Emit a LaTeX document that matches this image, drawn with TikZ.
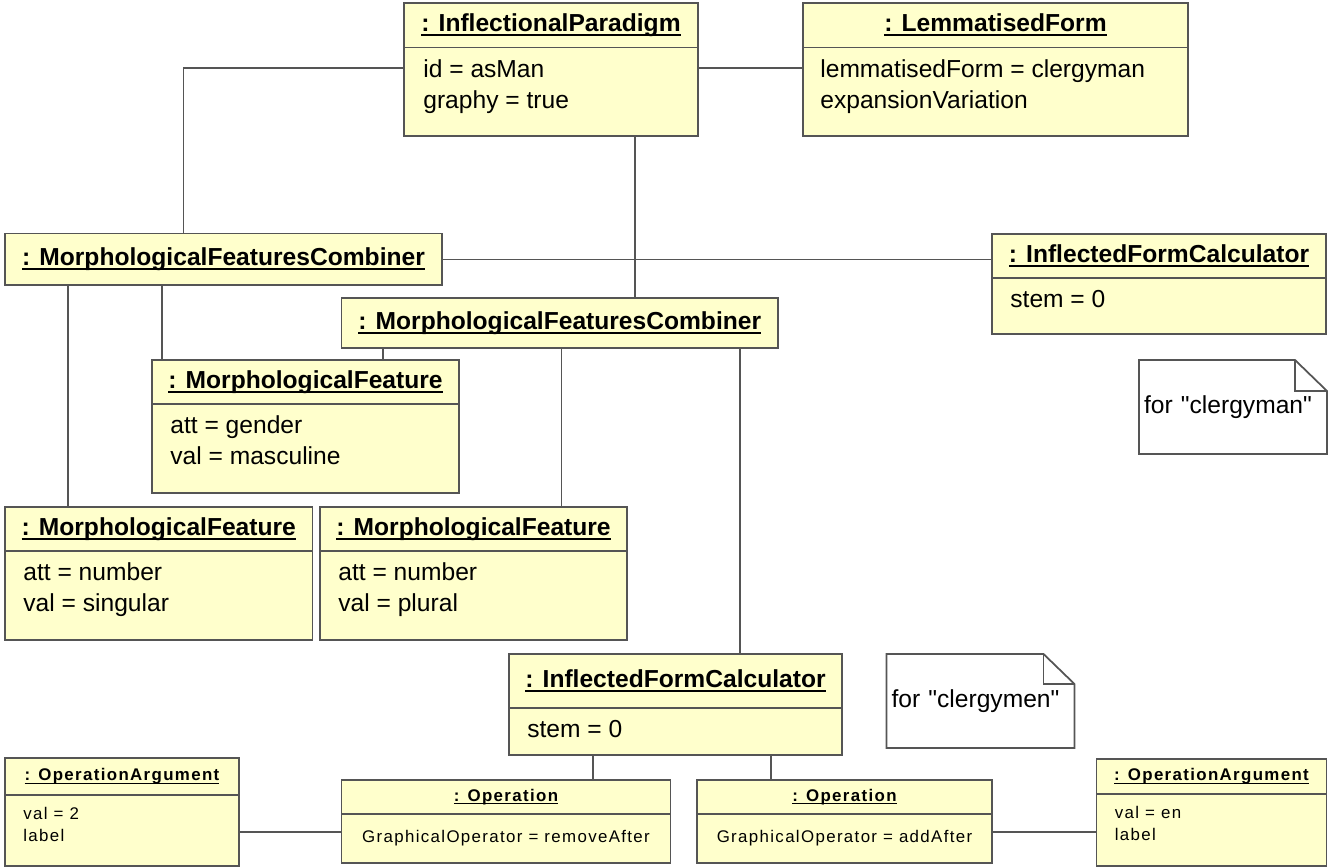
\documentclass[tikz,border=0pt]{standalone}
\usepackage{fontspec}
\setmainfont{Liberation Sans}
\newfontfamily\smallsf[LetterSpace=8]{Liberation Sans}
\usetikzlibrary{positioning}
\definecolor{objfill}{HTML}{FFFFCC}
\definecolor{edgegray}{HTML}{555555}
\newsavebox\namebox
\newcommand{\objname}[1]{\sbox\namebox{#1}\rlap{\rule[-0.18em]{\wd\namebox}{0.08em}}\usebox\namebox}
\newcommand{\mainsize}{\fontsize{14pt}{17.6pt}\selectfont}
\tikzset{
objbox/.style={
draw=edgegray,
fill=objfill,
line width=1pt,
inner sep=0pt,outer sep=0pt},
objtitle/.style={objbox,anchor=north west,font=\mainsize\bfseries},
attrtext/.style={anchor=north west,align=left,inner sep=0pt},
small/.style={font={\smallsf\fontsize{9.6pt}{12.5pt}\selectfont}},
link/.style={draw=edgegray,line width=0.8pt},
notebox/.style={inner xsep=0.1cm,inner ysep=0pt,outer sep=0pt,anchor=north west,text width=3.56cm,minimum height=1.88cm,align=left}
}

\begin{document}
\begin{tikzpicture}[font=\mainsize]
  \useasboundingbox (0,0) rectangle (26.56,-17.34);
  % top row
  \node[objtitle, minimum width=5.88cm, minimum height=0.89cm] (ip) at (8.08,-0.06) {\objname{: InflectionalParadigm}};
  \node[objbox, below=0pt of ip, minimum width=5.88cm, minimum height=1.77cm] (ip-a) {};
  \node[attrtext, below right=0.23cm and 0.38cm of ip-a.north west] (ip-t) {id = asMan\\graphy = true};
  \node[objtitle, minimum width=7.70cm, minimum height=0.89cm] (lf) at (16.06,-0.06) {\objname{: LemmatisedForm}};
  \node[objbox, below=0pt of lf, minimum width=7.70cm, minimum height=1.77cm] (lf-a) {};
  \node[attrtext, below right=0.23cm and 0.34cm of lf-a.north west] (lf-t) {lemmatisedForm = clergyman\\expansionVariation};
  % combiners
  \node[objtitle, minimum width=8.74cm, minimum height=1.03cm] (mfc1) at (0.10,-4.67) {\objname{: MorphologicalFeaturesCombiner}};
  \node[objtitle, minimum width=6.68cm, minimum height=0.88cm] (ifc1) at (19.84,-4.68) {\objname{: InflectedFormCalculator}};
  \node[objbox, below=0pt of ifc1, minimum width=6.68cm, minimum height=1.12cm] (ifc1-a) {};
  \node[attrtext, below right=0.23cm and 0.36cm of ifc1-a.north west] (ifc1-t) {stem = 0};
  \node[objtitle, minimum width=8.73cm, minimum height=1.00cm] (mfc2) at (6.83,-5.96) {\objname{: MorphologicalFeaturesCombiner}};
  % features
  \node[objtitle, minimum width=6.14cm, minimum height=0.88cm] (mfgen) at (3.04,-7.20) {\objname{: MorphologicalFeature}};
  \node[objbox, below=0pt of mfgen, minimum width=6.14cm, minimum height=1.78cm] (mfgen-a) {};
  \node[attrtext, below right=0.23cm and 0.36cm of mfgen-a.north west] (mfgen-t) {att = gender\\val = masculine};
  \node[objtitle, minimum width=6.15cm, minimum height=0.88cm] (mfsing) at (0.10,-10.14) {\objname{: MorphologicalFeature}};
  \node[objbox, below=0pt of mfsing, minimum width=6.15cm, minimum height=1.78cm] (mfsing-a) {};
  \node[attrtext, below right=0.23cm and 0.36cm of mfsing-a.north west] (mfsing-t) {att = number\\val = singular};
  \node[objtitle, minimum width=6.14cm, minimum height=0.88cm] (mfplur) at (6.40,-10.14) {\objname{: MorphologicalFeature}};
  \node[objbox, below=0pt of mfplur, minimum width=6.14cm, minimum height=1.78cm] (mfplur-a) {};
  \node[attrtext, below right=0.23cm and 0.36cm of mfplur-a.north west] (mfplur-t) {att = number\\val = plural};
  % calculator and operations
  \node[objtitle, minimum width=6.66cm, minimum height=1.08cm] (ifc2) at (10.18,-13.08) {\objname{: InflectedFormCalculator}};
  \node[objbox, below=0pt of ifc2, minimum width=6.66cm, minimum height=0.94cm] (ifc2-a) {};
  \node[attrtext, below right=0.23cm and 0.36cm of ifc2-a.north west] (ifc2-t) {stem = 0};
  \node[objtitle, small, minimum width=6.58cm, minimum height=0.68cm] (op1) at (6.83,-15.60) {\bfseries\objname{: Operation}};
  \node[objbox, small, below=0pt of op1, minimum width=6.58cm, minimum height=0.98cm] (op1-a) {GraphicalOperator = removeAfter};
  \node[objtitle, small, minimum width=5.90cm, minimum height=0.68cm] (op2) at (13.94,-15.60) {\bfseries\objname{: Operation}};
  \node[objbox, small, below=0pt of op2, minimum width=5.90cm, minimum height=0.98cm] (op2-a) {GraphicalOperator = addAfter};
  \node[objtitle, small, minimum width=4.68cm, minimum height=0.74cm] (oparg1) at (0.10,-15.16) {\bfseries\objname{: OperationArgument}};
  \node[objbox, small, below=0pt of oparg1, minimum width=4.68cm, minimum height=1.42cm] (oparg1-a) {};
  \node[attrtext, small, below right=0.24cm and 0.36cm of oparg1-a.north west] (oparg1-t) {val = 2\\label};
  \node[objtitle, small, minimum width=4.60cm, minimum height=0.70cm] (oparg2) at (21.93,-15.18) {\bfseries\objname{: OperationArgument}};
  \node[objbox, small, below=0pt of oparg2, minimum width=4.60cm, minimum height=1.44cm] (oparg2-a) {};
  \node[attrtext, small, below right=0.24cm and 0.36cm of oparg2-a.north west] (oparg2-t) {val = en\\label};
  % notes
  \node[notebox] (note1) at (22.78,-7.20) {for \textquotedbl clergyman\textquotedbl};
  \draw[edgegray, line width=1pt] (note1.north west) -- ([xshift=-0.64cm]note1.north east) -- ([yshift=-0.62cm]note1.north east) -- (note1.south east) -- (note1.south west) -- cycle;
  \draw[edgegray, line width=1pt] ([xshift=-0.64cm]note1.north east) |- ([yshift=-0.62cm]note1.north east);
  \node[notebox] (note2) at (17.73,-13.08) {for \textquotedbl clergymen\textquotedbl};
  \draw[edgegray, line width=1pt] (note2.north west) -- ([xshift=-0.62cm]note2.north east) -- ([yshift=-0.60cm]note2.north east) -- (note2.south east) -- (note2.south west) -- cycle;
  \draw[edgegray, line width=1pt] ([xshift=-0.62cm]note2.north east) |- ([yshift=-0.60cm]note2.north east);
  % links
  \draw[link] ([yshift=-0.41cm]ip-a.north west) -| ([xshift=3.57cm]mfc1.north west);
  \draw[link] ([yshift=-0.41cm]ip-a.north east) -- ([yshift=-0.41cm]lf-a.north west);
  \draw[link] ([xshift=5.87cm]mfc2.north west) -- ([xshift=5.87cm]mfc2.north west |- ip-a.south);
  \draw[link] (mfc1.east) -- (mfc1.east -| ifc1.west);
  \draw[link] ([xshift=0.2cm]mfgen.north west) -- ([xshift=0.2cm]mfgen.north west |- mfc1.south);
  \draw[link] ([xshift=1.26cm]mfsing.north west) -- ([xshift=1.26cm]mfsing.north west |- mfc1.south);
  \draw[link] ([xshift=4.62cm]mfgen.north west) -- ([xshift=4.62cm]mfgen.north west |- mfc2.south);
  \draw[link] ([xshift=4.83cm]mfplur.north west) -- ([xshift=4.83cm]mfplur.north west |- mfc2.south);
  \draw[link] ([xshift=4.62cm]ifc2.north west) -- ([xshift=4.62cm]ifc2.north west |- mfc2.south);
  \draw[link] ([xshift=5.03cm]op1.north west) -- ([xshift=5.03cm]op1.north west |- ifc2-a.south);
  \draw[link] ([xshift=1.48cm]op2.north west) -- ([xshift=1.48cm]op2.north west |- ifc2-a.south);
  \draw[link] ([yshift=-0.36cm]op1-a.north west) -- ([yshift=-0.36cm]op1-a.north west -| oparg1-a.east);
  \draw[link] ([yshift=-0.36cm]op2-a.north east) -- ([yshift=-0.36cm]op2-a.north east -| oparg2-a.west);
\end{tikzpicture}
\end{document}
